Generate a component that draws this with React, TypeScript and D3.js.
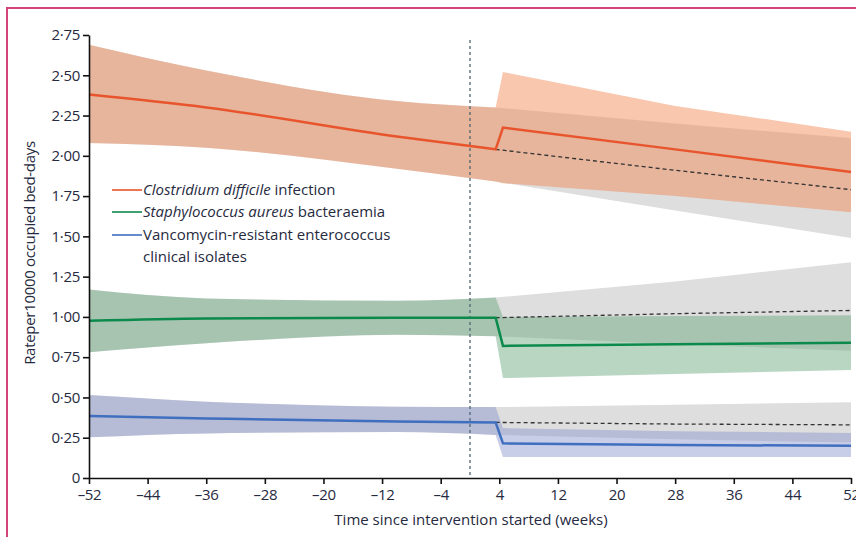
import React, { useEffect, useRef } from "react";
import * as d3 from "d3";

// weeks since intervention start
const preWeeks = [-52, -36, -10, 3.5];
const postWeeks = [4.5, 28, 52];
const cfWeeks = [3.5, 28, 52];

const xTicks = [-52, -44, -36, -28, -20, -12, -4, 4, 12, 20, 28, 36, 44, 52];
const yTicks = [0, 0.25, 0.5, 0.75, 1, 1.25, 1.5, 1.75, 2, 2.25, 2.5, 2.75];

// Clostridium difficile infection
const cdiPre = [2.38, 2.3, 2.12, 2.04];
const cdiPreLo = [2.08, 2.05, 1.92, 1.84];
const cdiPreHi = [2.69, 2.53, 2.34, 2.3];
const cdiPost = [2.175, 2.04, 1.9];
const cdiPostLo = [1.83, 1.75, 1.65];
const cdiPostHi = [2.52, 2.31, 2.15];
const cdiCf = [2.04, 1.91, 1.79];
const cdiCfLo = [1.84, 1.66, 1.49];
const cdiCfHi = [2.3, 2.2, 2.11];

// Staphylococcus aureus bacteraemia
const sabPre = [0.976, 0.99, 0.995, 0.995];
const sabPreLo = [0.78, 0.836, 0.89, 0.88];
const sabPreHi = [1.17, 1.115, 1.1, 1.12];
const sabPost = [0.82, 0.83, 0.84];
const sabPostLo = [0.62, 0.645, 0.67];
const sabPostHi = [1.0, 1.005, 1.01];
const sabCf = [0.995, 1.02, 1.04];
const sabCfLo = [0.88, 0.83, 0.79];
const sabCfHi = [1.12, 1.22, 1.34];

// Vancomycin-resistant enterococcus
const vrePre = [0.385, 0.37, 0.35, 0.345];
const vrePreLo = [0.253, 0.277, 0.285, 0.267];
const vrePreHi = [0.515, 0.474, 0.443, 0.44];
const vrePost = [0.215, 0.205, 0.2];
const vrePostLo = [0.13, 0.13, 0.13];
const vrePostHi = [0.31, 0.29, 0.28];
const vreCf = [0.345, 0.335, 0.33];
const vreCfLo = [0.267, 0.24, 0.22];
const vreCfHi = [0.44, 0.455, 0.47];

const series = [
  { name: "cdi", line: "#e8552d", band: "rgb(243,134,83)", pre: cdiPre, preLo: cdiPreLo, preHi: cdiPreHi, post: cdiPost, postLo: cdiPostLo, postHi: cdiPostHi, cf: cdiCf, cfLo: cdiCfLo, cfHi: cdiCfHi },
  { name: "sab", line: "#0c8a4c", band: "rgb(106,168,128)", pre: sabPre, preLo: sabPreLo, preHi: sabPreHi, post: sabPost, postLo: sabPostLo, postHi: sabPostHi, cf: sabCf, cfLo: sabCfLo, cfHi: sabCfHi },
  { name: "vre", line: "#3f6fbf", band: "rgb(138,149,206)", pre: vrePre, preLo: vrePreLo, preHi: vrePreHi, post: vrePost, postLo: vrePostLo, postHi: vrePostHi, cf: vreCf, cfLo: vreCfLo, cfHi: vreCfHi },
];

const FONT = "'Open Sans', 'Noto Sans', sans-serif";
const TEXT = "#262a40";
const FS = 15;

const x = d3.scaleLinear().domain([-52, 52]).range([89, 851]);
const y = d3.scaleLinear().domain([0, 2.75]).range([478, 35]);

type P = { w: number; lo: number; hi: number };
const zip = (ws: number[], lo: number[], hi: number[]): P[] => ws.map((w, i) => ({ w, lo: lo[i], hi: hi[i] }));
const pts = (ws: number[], vs: number[]): [number, number][] => ws.map((w, i) => [w, vs[i]]);

// smooth curve for the pre-intervention fit, straight segments after it
const smooth = d3
  .line<[number, number]>()
  .x((d) => x(d[0]))
  .y((d) => y(d[1]))
  .curve(d3.curveMonotoneX);
const straight = (p: [number, number][]) => p.map((d) => `L${x(d[0])},${y(d[1])}`).join("");

function bandPath(pre: P[], post: P[]) {
  const hiPre = smooth(pre.map((d) => [d.w, d.hi] as [number, number]))!;
  const hiPost = straight(post.map((d) => [d.w, d.hi]));
  const loPost = straight([...post].reverse().map((d) => [d.w, d.lo]));
  const loPre = smooth([...pre].reverse().map((d) => [d.w, d.lo] as [number, number]))!.replace(/^M/, "L");
  return hiPre + hiPost + loPost + loPre + "Z";
}

export default function App() {
  const xRef = useRef<SVGGElement>(null);
  const yRef = useRef<SVGGElement>(null);

  useEffect(() => {
    const yAxis = d3
      .axisLeft(y)
      .tickValues(yTicks)
      .tickSize(6)
      .tickSizeOuter(0)
      .tickPadding(3)
      .tickFormat((v) => (+v === 0 ? "0" : d3.format(".2f")(+v).replace(".", "·")));
    const xAxis = d3
      .axisBottom(x)
      .tickValues(xTicks)
      .tickSize(6)
      .tickSizeOuter(0)
      .tickPadding(5)
      .tickFormat((v) => (+v < 0 ? "–" + Math.abs(+v) : String(v)));

    const gy = d3.select(yRef.current!).call(yAxis);
    const gx = d3.select(xRef.current!).call(xAxis);
    [gx, gy].forEach((g) => {
      g.select(".domain").attr("stroke", "#111").attr("stroke-width", 1.6);
      g.selectAll(".tick line").attr("stroke", "#111").attr("stroke-width", 1.6);
      g.selectAll("text")
        .attr("fill", TEXT)
        .attr("font-size", FS)
        .attr("font-family", FONT)
        .attr("letter-spacing", -0.3);
    });
  }, []);

  return (
    <svg
      width={856}
      height={537}
      style={{ position: "absolute", left: 0, top: 0, background: "#fff" }}
    >
      <rect x={7} y={8} width={900} height={600} fill="none" stroke="#d2447a" strokeWidth={2} />

      {series.map((s) => (
        <g key={s.name + "-bands"}>
          <path
            d={bandPath(zip(preWeeks, s.preLo, s.preHi), zip(cfWeeks, s.cfLo, s.cfHi).slice(1))}
            fill="#dedede"
          />
          <path
            d={bandPath(zip(preWeeks, s.preLo, s.preHi), zip(postWeeks, s.postLo, s.postHi))}
            fill={s.band}
            fillOpacity={0.47}
          />
        </g>
      ))}

      <line
        x1={x(0)}
        x2={x(0)}
        y1={40}
        y2={478}
        stroke="#4f6572"
        strokeWidth={1.3}
        strokeDasharray="3 3"
      />

      {series.map((s) => (
        <g key={s.name + "-lines"}>
          <path
            d={"M" + straight(pts(cfWeeks, s.cf)).slice(1)}
            fill="none"
            stroke="#333"
            strokeWidth={1.3}
            strokeDasharray="4 3"
          />
          <path
            d={smooth(pts(preWeeks, s.pre))! + straight(pts(postWeeks, s.post))}
            fill="none"
            stroke={s.line}
            strokeWidth={2.5}
          />
        </g>
      ))}

      <g ref={yRef} transform={`translate(${x(-52)},0)`} />
      <g ref={xRef} transform={`translate(0,${y(0)})`} />

      <text
        transform={`translate(35,253) rotate(-90)`}
        textAnchor="middle"
        fontFamily={FONT}
        fontSize={FS}
        letterSpacing={-0.3}
        fill={TEXT}
      >
        Rateper10000 occupied bed-days
      </text>
      <text x={471} y={525} textAnchor="middle" fontFamily={FONT} fontSize={FS} fill={TEXT}>
        Time since intervention started (weeks)
      </text>

      <g fontFamily={FONT} fontSize={FS} fill={TEXT}>
        <line x1={112} x2={142} y1={190} y2={190} stroke="#e8552d" strokeWidth={1.6} />
        <text x={143} y={195}>
          <tspan fontStyle="italic">Clostridium difficile</tspan> infection
        </text>
        <line x1={112} x2={142} y1={212} y2={212} stroke="#0c8a4c" strokeWidth={1.6} />
        <text x={143} y={217}>
          <tspan fontStyle="italic">Staphylococcus aureus</tspan> bacteraemia
        </text>
        <line x1={112} x2={142} y1={235} y2={235} stroke="#3f6fbf" strokeWidth={1.6} />
        <text x={143} y={240}>Vancomycin-resistant enterococcus</text>
        <text x={143} y={262}>clinical isolates</text>
      </g>
    </svg>
  );
}
